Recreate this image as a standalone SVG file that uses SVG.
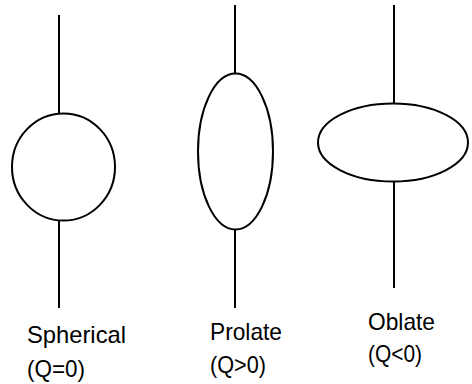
<svg xmlns="http://www.w3.org/2000/svg" width="472" height="384" viewBox="0 0 472 384">
<style>
.ln{stroke:#000;stroke-width:2;fill:none}
.sh{stroke:#000;stroke-width:2;fill:#fff}
.t{font-family:"Liberation Sans",Arial,sans-serif;font-size:24px;fill:#000}
</style>
<rect width="472" height="384" fill="#fff"/>
<g id="connectors">
<line class="ln" x1="59" y1="15" x2="59" y2="114"/>
<line class="ln" x1="59" y1="220" x2="59" y2="308"/>
<line class="ln" x1="235" y1="5" x2="235" y2="74"/>
<line class="ln" x1="235" y1="229" x2="235" y2="308"/>
<line class="ln" x1="394" y1="5" x2="394" y2="104"/>
<line class="ln" x1="394" y1="181" x2="394" y2="288"/>
</g>
<g id="spherical">
<ellipse class="sh" cx="63.5" cy="167" rx="51.5" ry="53.5"/>
<text class="t" x="27" y="343" textLength="99" lengthAdjust="spacingAndGlyphs">Spherical</text>
<text class="t" x="27" y="377" textLength="58" lengthAdjust="spacingAndGlyphs">(Q=0)</text>
</g>
<g id="prolate">
<ellipse class="sh" cx="235.5" cy="151.5" rx="37.5" ry="78"/>
<text class="t" x="210" y="340" textLength="72" lengthAdjust="spacingAndGlyphs">Prolate</text>
<text class="t" x="210" y="373" textLength="56" lengthAdjust="spacingAndGlyphs">(Q&gt;0)</text>
</g>
<g id="oblate">
<ellipse class="sh" cx="393" cy="142.5" rx="75" ry="39"/>
<text class="t" x="368" y="330" textLength="67" lengthAdjust="spacingAndGlyphs">Oblate</text>
<text class="t" x="368" y="362" textLength="54" lengthAdjust="spacingAndGlyphs">(Q&lt;0)</text>
</g>
</svg>
